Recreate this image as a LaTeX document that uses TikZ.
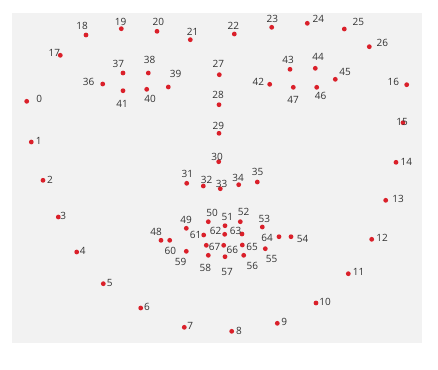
\documentclass[tikz,border=0pt]{standalone}
\usepackage{fontspec}
\setmainfont{Open Sans}
\definecolor{markred}{RGB}{218,32,42}
\definecolor{panelgray}{RGB}{242,242,242}
\definecolor{labelgray}{RGB}{51,51,51}
\begin{document}
\begin{tikzpicture}[
    x=0.75pt, y=-0.75pt,
    mark dot/.style={circle, fill=markred, inner sep=0pt, minimum size=3.6pt},
    mark label/.style={font=\fontsize{7.5}{8}\selectfont, text=labelgray, inner sep=0pt},
]

    \useasboundingbox[fill=white] (0,0) rectangle (438,369);
    \fill[panelgray] (12,13) rectangle (422,343);

    \foreach \i/\px/\py/\lx/\ly in {
        0/26.7/101.3/39.3/99.3, 1/31.3/142/38.7/141.3, 2/43/180.3/50/180,
        3/58.3/217/63.3/215.7, 4/76.7/252/82.7/250.7, 5/103.3/283.7/109.7/283,
        6/140.7/308/147/307, 7/184.3/327.3/190.3/325.7, 8/231.7/331.3/239/330.7,
        9/277.3/323.3/284.3/321.7, 10/316/303/325/302, 11/348.3/273.7/358.7/272.3,
        12/371.7/239.3/382/238.3, 13/385.7/200.3/398/199.3, 14/396/162.3/406.3/161.7,
        15/403/122.7/402/122.3, 16/406.7/84.7/393.3/81.7, 17/60.3/55.3/54.3/52.7,
        18/86/35/82/26, 19/121.3/28.7/120.7/21.7, 20/157/31.3/158.3/22,
        21/190.3/39.7/192.7/32, 22/234.3/34/233.3/26, 23/271.7/27.3/272.3/19,
        24/307.3/23.3/318.3/19, 25/344.3/29/358.3/22, 26/369.3/46.7/382.3/42.7,
        27/219.3/74.7/218.3/64, 28/219/104.7/218/95.3, 29/219/133.3/218.3/126.3,
        30/218.7/161.7/217/156.7, 31/186.7/183.3/187.3/174, 32/203.3/186/206.7/180,
        33/220.3/188.7/221.7/183.7, 34/238.7/184.7/238/178.3, 35/257.3/182/257.7/172.3,
        36/102.7/84/88.7/82, 37/123/73/118.3/64, 38/148.3/73/149.7/60.3,
        39/168.3/87/175.7/74, 40/146.7/89.3/150/99.3, 41/123/90.7/122/104,
        42/269.7/84.3/258.3/82, 43/290/69.3/288/60, 44/315.3/68.3/318/57.3,
        45/335.3/79.3/345/72, 46/316.7/87.3/320.7/96, 47/293.3/87.3/293/100.3,
        48/161/240.3/156/232.3, 49/186.3/228.3/186/220.3, 50/208.3/221.7/212/213,
        51/225/225.7/227.3/216.7, 52/240.3/221.7/243.7/211.7, 53/262.3/227/264.3/219.3,
        54/291/236.7/302.7/239.3, 55/265.3/248.7/271.7/258.7, 56/243.7/255.3/252.3/266,
        57/225/256.7/227/272, 58/208.3/255.3/205.3/268.3, 59/186.3/251.3/180.7/261.7,
        60/169.7/240.3/170.3/251, 61/203.7/235/195.7/234.7, 62/224.7/234.3/215.7/231.3,
        63/242/234/235.7/231.3, 64/279/236.7/267/238.3, 65/242.3/245/252/247.3,
        66/223.7/245.3/232.3/250.3, 67/206.3/245.3/214.7/247}
    {
        \node[mark dot] (p\i) at (\px,\py) {};
        \node[mark label] (l\i) at (\lx,\ly) {\i};
    }
\end{tikzpicture}
\end{document}
